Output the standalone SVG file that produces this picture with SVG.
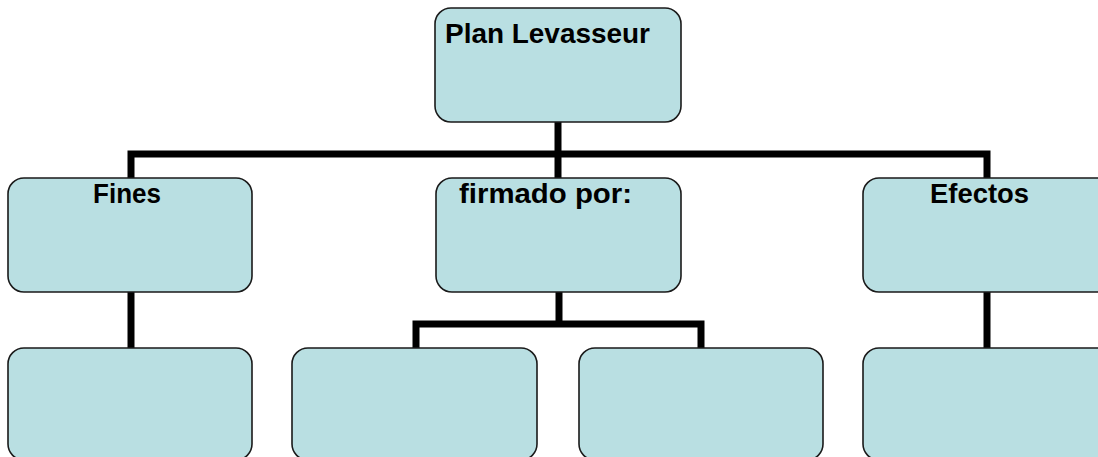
<svg xmlns="http://www.w3.org/2000/svg" width="1098" height="457" viewBox="0 0 1098 457">
<style>
.box{fill:#b9dfe2;stroke:#1a1a1a;stroke-width:1.6}
.lbl{font-family:"Liberation Sans",Arial,sans-serif;font-weight:bold;font-size:27px;fill:#000}
.con{stroke:#000;stroke-width:7;fill:none;stroke-linecap:butt}
</style>
<rect width="1098" height="457" fill="#fff"/>
<g id="connectors">
<line class="con" x1="558" y1="122" x2="558" y2="178"/>
<polyline class="con" points="131,178 131,154 987,154 987,178"/>
<line class="con" x1="131" y1="292" x2="131" y2="348"/>
<line class="con" x1="987" y1="292" x2="987" y2="348"/>
<line class="con" x1="559" y1="292" x2="559" y2="324"/>
<polyline class="con" points="416,348 416,324 701,324 701,348"/>
</g>
<g id="n-plan"><rect class="box" x="435" y="8" width="246" height="114" rx="16"/><text class="lbl" x="445" y="43" textLength="205" lengthAdjust="spacingAndGlyphs">Plan Levasseur</text></g>
<g id="n-fines"><rect class="box" x="8" y="178" width="244" height="114" rx="16"/><text class="lbl" x="93" y="203" textLength="68" lengthAdjust="spacingAndGlyphs">Fines</text></g>
<g id="n-firmado"><rect class="box" x="436" y="178" width="245" height="114" rx="16"/><text class="lbl" x="459" y="203" textLength="173" lengthAdjust="spacingAndGlyphs">firmado por:</text></g>
<g id="n-efectos"><rect class="box" x="863" y="178" width="250" height="114" rx="16"/><text class="lbl" x="930" y="203" textLength="99" lengthAdjust="spacingAndGlyphs">Efectos</text></g>
<g id="n-fines-1"><rect class="box" x="8" y="348" width="244" height="112" rx="16"/></g>
<g id="n-firmado-1"><rect class="box" x="292" y="348" width="245" height="112" rx="16"/></g>
<g id="n-firmado-2"><rect class="box" x="579" y="348" width="244" height="112" rx="16"/></g>
<g id="n-efectos-1"><rect class="box" x="863" y="348" width="250" height="112" rx="16"/></g>
</svg>
